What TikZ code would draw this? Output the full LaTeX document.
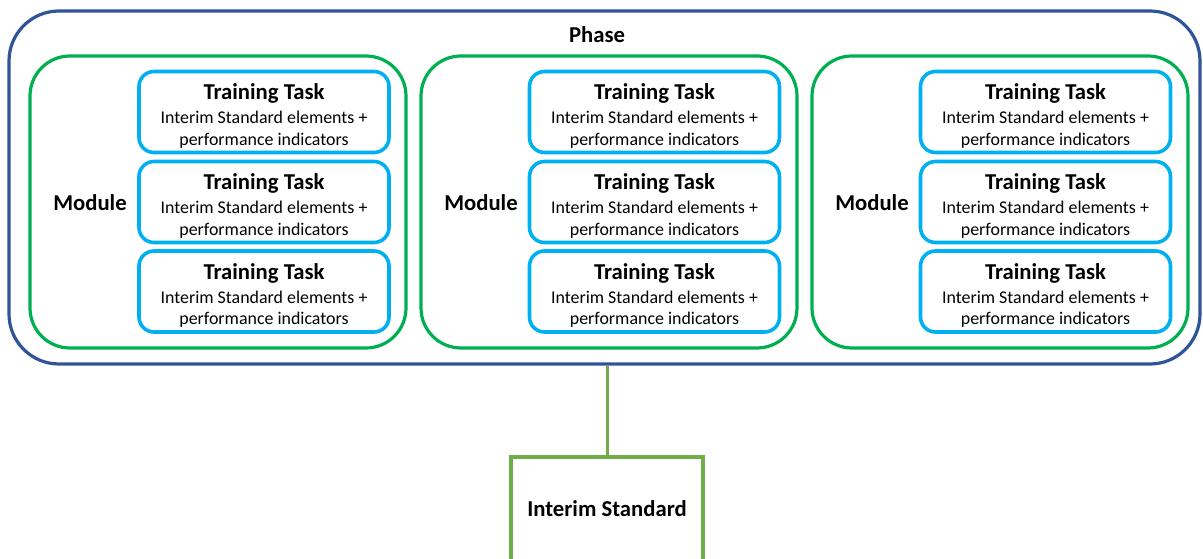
\documentclass[tikz,border=0pt]{standalone}
\usepackage{fontspec}
\setmainfont{Carlito}
\definecolor{navy}{RGB}{47,85,151}
\definecolor{modgreen}{RGB}{0,176,80}
\definecolor{taskblue}{RGB}{0,176,240}
\definecolor{lightgreen}{RGB}{112,173,71}
\newcommand{\titlef}{\fontsize{22.7}{27}\selectfont\bfseries}
\newcommand{\bodyf}{\fontsize{17.9}{21.6}\selectfont}
\tikzset{
  phasebox/.style={draw=navy, line width=3.2pt, rounded corners=50pt, minimum width=1191pt, minimum height=353pt, inner sep=0pt},
  modulebox/.style={draw=modgreen, line width=3.2pt, rounded corners=40pt, minimum width=376pt, minimum height=292pt, inner sep=0pt},
  taskbox/.style={draw=taskblue, line width=3.6pt, rounded corners=15pt, minimum width=250pt, minimum height=81pt, inner sep=0pt},
  tasktext/.style={align=center, font=\bodyf, inner sep=0pt},
  modlabel/.style={font=\titlef, inner sep=0pt},
  phaselabel/.style={font=\titlef, inner sep=0pt},
  stdbox/.style={draw=lightgreen, line width=4pt, minimum width=192pt, minimum height=104pt, inner sep=0pt, font=\titlef},
  link/.style={draw=lightgreen, line width=3pt}
}
\begin{document}
\begin{tikzpicture}[x=1pt,y=-1pt]
\useasboundingbox (0,0) rectangle (1203,559);
\clip (0,0) rectangle (1203,559);
\node[phasebox] (phase) at (604.5,187.5) {};
\node[phaselabel] (phasetitle) at (597,35) {Phase};
\foreach \m/\mx/\tx/\lx in {1/218/264/90, 2/609/654.5/481, 3/1000/1045.5/872}{
  \node[modulebox] (mod\m) at (\mx,202) {};
  \node[modlabel] (modlab\m) at (\lx,203) {Module};
  \foreach \t/\ty in {1/112, 2/202, 3/291.5}{
    \node[taskbox] (task\m\t) at (\tx,\ty) {};
    \node[tasktext] (tasktxt\m\t) at (\tx,\ty+4) {{\titlef Training Task}\\[2pt]Interim Standard elements +\\performance indicators};
  }
}
\node[stdbox] (interim) at (607,509) {Interim Standard};
\draw[link] (phase.south -| interim.north) -- (interim.north);
\end{tikzpicture}
\end{document}
